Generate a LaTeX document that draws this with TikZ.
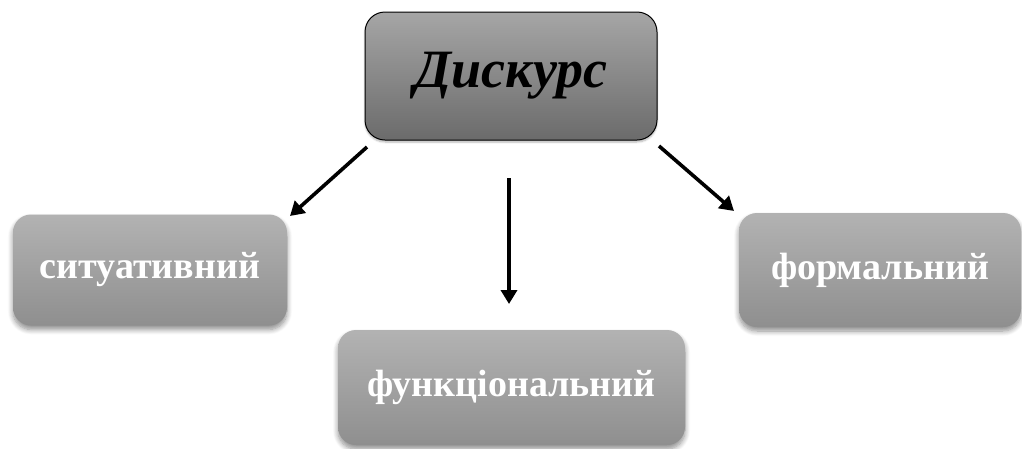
\documentclass[tikz,border=0pt]{standalone}
\usepackage{fontspec}
\setmainfont{Liberation Serif}
\usetikzlibrary{arrows.meta,shadows.blur}
\begin{document}
\begin{tikzpicture}[x=1pt,y=-1pt,
  topbox/.style={draw=black,line width=1pt,rounded corners=20pt,top color=black!35,bottom color=black!58,
    minimum width=292pt,minimum height=128pt,font=\fontsize{54}{60}\selectfont\bfseries\itshape,text=black,
    blur shadow={shadow xshift=0pt,shadow yshift=-2pt,shadow blur steps=6,shadow opacity=30}},
  subbox/.style={rounded corners=18pt,top color=black!30,bottom color=black!44,
    font=\fontsize{38}{42}\selectfont\bfseries,text=white,
    blur shadow={shadow xshift=0pt,shadow yshift=-4pt,shadow blur steps=8,shadow opacity=45,shadow blur radius=5pt}},
  arr/.style={line width=3.6pt,-{Triangle[length=14pt,width=16pt]}}]
\useasboundingbox (0,0) rectangle (1022,448);
\node[topbox] (top) at (511,76) {Дискурс};
\node[subbox,minimum width=274pt,minimum height=111pt] (left) at (150,270) {ситуативний};
\node[subbox,minimum width=282pt,minimum height=114pt] (right) at (880,270) {формальний};
\node[subbox,minimum width=347pt,minimum height=115pt] (bottom) at (511.5,387.5) {функціональний};
\coordinate (ls) at (367,147);
\coordinate (le) at (290,216);
\coordinate (ms) at (509,178);
\coordinate (me) at (509,304);
\coordinate (rs) at (659,146);
\coordinate (re) at (734,211);
\draw[arr] (ls) -- (le);
\draw[arr] (ms) -- (me);
\draw[arr] (rs) -- (re);
\end{tikzpicture}
\end{document}
